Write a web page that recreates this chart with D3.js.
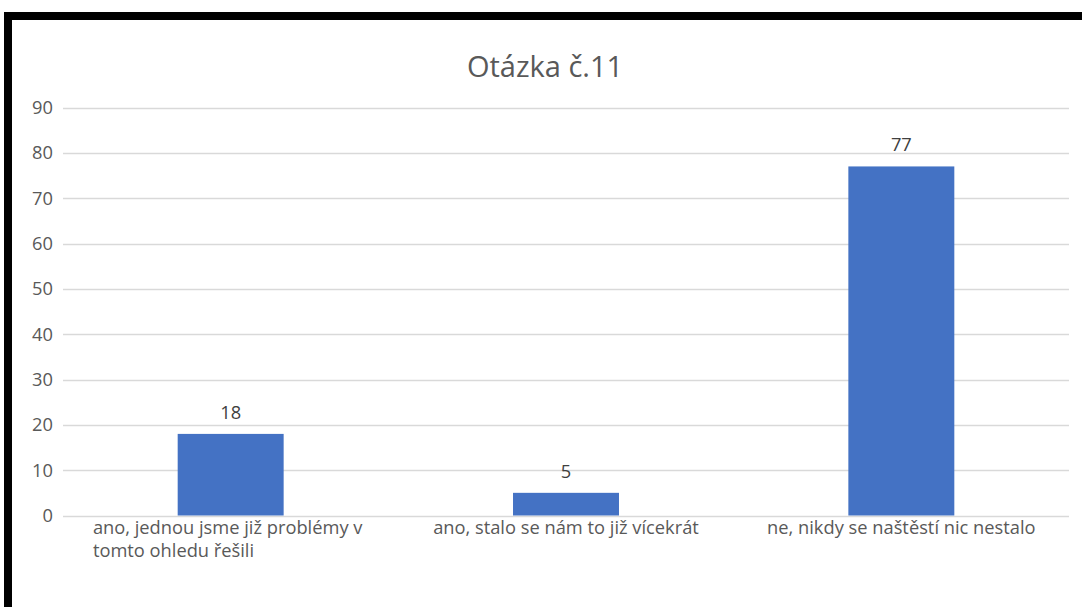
<!DOCTYPE html>
<html><head><meta charset="utf-8">
<script src="https://cdn.jsdelivr.net/npm/d3@7"></script>
<style>html,body{margin:0;padding:0;background:#fff;}svg{display:block;}</style>
</head><body>
<script>
const title = "Otázka č.11";
const categories = ["ano, jednou jsme již problémy v tomto ohledu řešili", "ano, stalo se nám to již vícekrát", "ne, nikdy se naštěstí nic nestalo"];
const categoryLines = [["ano, jednou jsme již problémy v", "tomto ohledu řešili"], ["ano, stalo se nám to již vícekrát"], ["ne, nikdy se naštěstí nic nestalo"]];
const values = [18, 5, 77];
const yTicks = [0, 10, 20, 30, 40, 50, 60, 70, 80, 90];

const W = 1082, H = 607;
const font = "'Open Sans', 'Noto Sans', sans-serif";
const fs = 18.3;
const svg = d3.select("body").append("svg").attr("width", W).attr("height", H);

// black frame (top and left edges visible)
svg.append("rect").attr("x", 4).attr("y", 12).attr("width", W).attr("height", 8).attr("fill", "#000");
svg.append("rect").attr("x", 4).attr("y", 12).attr("width", 8).attr("height", H).attr("fill", "#000");

const x = d3.scaleBand().domain(categories).range([63, 1069]).paddingInner(0.684).paddingOuter(0.342);
const y = d3.scaleLinear().domain([0, 90]).range([515.5, 107.5]);

// gridlines
svg.append("g").selectAll("line").data(yTicks).join("line")
  .attr("x1", 63).attr("x2", 1069)
  .attr("y1", d => Math.round(y(d)) + 0.5).attr("y2", d => Math.round(y(d)) + 0.5)
  .attr("stroke", "#d9d9d9").attr("stroke-width", 1.3);

// y tick labels
svg.append("g").selectAll("text").data(yTicks).join("text")
  .attr("x", 53).attr("y", d => y(d)).attr("dy", "0.35em")
  .attr("text-anchor", "end").attr("font-family", font).attr("font-size", fs)
  .attr("fill", "#595959").text(d => d);

// bars
svg.append("g").selectAll("rect").data(values).join("rect")
  .attr("x", (d, i) => x(categories[i])).attr("width", x.bandwidth())
  .attr("y", d => y(d)).attr("height", d => y(0) - y(d))
  .attr("fill", "#4472C4");

// value labels
svg.append("g").selectAll("text").data(values).join("text")
  .attr("x", (d, i) => x(categories[i]) + x.bandwidth() / 2)
  .attr("y", d => y(d) - 15)
  .attr("text-anchor", "middle").attr("font-family", font).attr("font-size", fs)
  .attr("fill", "#404040").text(d => d);

// category labels
categoryLines.forEach((lines, i) => {
  const cx = x(categories[i]) + x.bandwidth() / 2;
  if (lines.length > 1) {
    const tmp = svg.append("text").attr("font-family", font).attr("font-size", fs).text(lines[0]);
    const w = tmp.node().getComputedTextLength(); tmp.remove();
    lines.forEach((l, j) => svg.append("text").attr("font-family", font).attr("font-size", fs)
      .attr("fill", "#595959").attr("x", cx - w / 2 - 3).attr("y", 534 + j * 23).text(l));
  } else {
    svg.append("text").attr("font-family", font).attr("font-size", fs).attr("fill", "#595959")
      .attr("text-anchor", "middle").attr("x", cx).attr("y", 534).text(lines[0]);
  }
});

// title
svg.append("text").attr("x", 545).attr("y", 77).attr("text-anchor", "middle")
  .attr("font-family", font).attr("font-size", 29).attr("fill", "#595959").text(title);
</script>
</body></html>
